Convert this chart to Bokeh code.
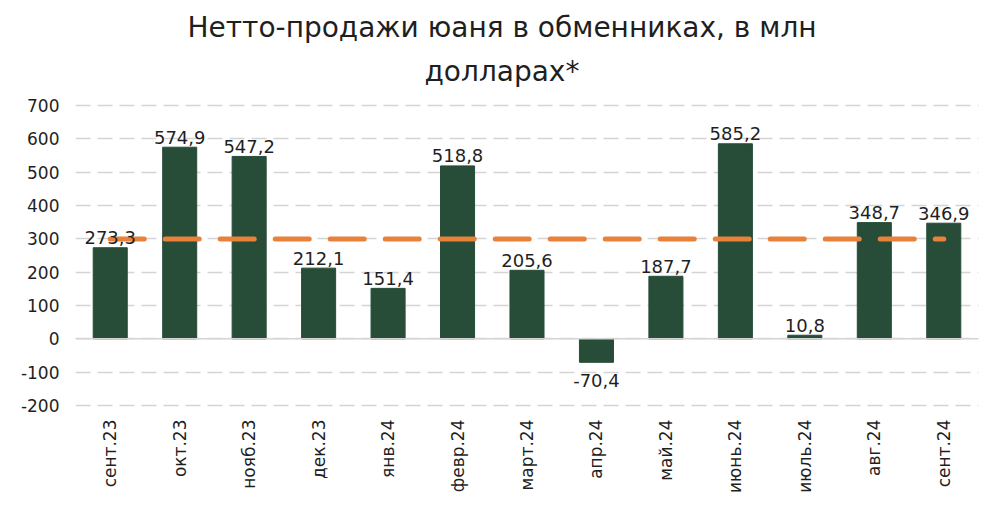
import math
from bokeh.plotting import figure
from bokeh.models import Range1d, FactorRange, Span, ColumnDataSource, Title
from bokeh.core.properties import value
from bokeh.embed import file_html
from bokeh.resources import INLINE

months = ["сент.23", "окт.23", "нояб.23", "дек.23", "янв.24", "февр.24", "март.24",
          "апр.24", "май.24", "июнь.24", "июль.24", "авг.24", "сент.24"]
net_sales = [273.3, 574.9, 547.2, 212.1, 151.4, 518.8, 205.6,
             -70.4, 187.7, 585.2, 10.8, 348.7, 346.9]
average_value = 299.4
title_lines = ["Нетто-продажи юаня в обменниках, в млн", "долларах*"]
y_ticks = [-200, -100, 0, 100, 200, 300, 400, 500, 600, 700]

FONT = "DejaVu Sans"
BAR = "#274d38"
ORANGE = "#e8823b"
GRID = "#d4d4d4"
TXT = "#1f1f1f"

p = figure(width=1002, height=510, x_range=FactorRange(*months),
           y_range=Range1d(-206, 706), output_backend="svg", toolbar_location=None,
           min_border_left=75, min_border_right=24, min_border_top=103,
           min_border_bottom=103, title=None)
p.outline_line_color = None
p.background_fill_color = "white"
p.border_fill_color = "white"

# line 2 (closest to the plot), then line 1
t2 = Title(text=title_lines[1], align="left", offset=349, text_font=FONT,
           text_font_size="28px", text_font_style="normal", text_color=TXT,
           standoff=31)
t1 = Title(text=title_lines[0], align="left", offset=112, text_font=FONT,
           text_font_size="28px", text_font_style="normal", text_color=TXT,
           standoff=-12)
p.add_layout(t2, "above")
p.add_layout(t1, "above")

p.xgrid.grid_line_color = None
p.ygrid.grid_line_color = GRID
p.ygrid.grid_line_dash = "15 7"
p.ygrid.grid_line_width = 1.5
p.yaxis.ticker = y_ticks
p.yaxis.major_label_overrides = {t: str(t) for t in y_ticks}

for ax in (p.xaxis[0], p.yaxis[0]):
    ax.axis_line_color = None
    ax.major_tick_line_color = None
    ax.minor_tick_line_color = None
    ax.major_tick_out = 0
    ax.major_tick_in = 0
    ax.major_label_text_font = FONT
    ax.major_label_text_color = TXT

p.yaxis.major_label_text_font_size = "17px"
p.yaxis.major_label_standoff = 16
p.xaxis.major_label_text_font_size = "17px"
p.xaxis.major_label_orientation = math.pi / 2
p.xaxis.major_label_standoff = 12

zero = Span(location=0, dimension="width", line_color=GRID, line_width=1.5)
p.add_layout(zero)

labels = [f"{v:.1f}".replace(".", ",") for v in net_sales]
pos = ColumnDataSource(dict(x=[m for m, v in zip(months, net_sales) if v >= 0],
                            y=[v for v in net_sales if v >= 0],
                            t=[l for l, v in zip(labels, net_sales) if v >= 0]))
neg = ColumnDataSource(dict(x=[m for m, v in zip(months, net_sales) if v < 0],
                            y=[v for v in net_sales if v < 0],
                            t=[l for l, v in zip(labels, net_sales) if v < 0]))

p.vbar(x=months, top=net_sales, width=0.49, color=BAR)

p.line(x=[months[0], months[-1]], y=[average_value, average_value],
       line_color=ORANGE, line_width=5, line_dash="34 21", line_cap="round")

p.text(x="x", y="y", text="t", source=pos, text_align="center",
       text_baseline="alphabetic", y_offset=-10, text_font=value(FONT),
       text_font_size="18px", text_color=TXT)
p.text(x="x", y="y", text="t", source=neg, text_align="center",
       text_baseline="top", y_offset=12, text_font=value(FONT),
       text_font_size="18px", text_color=TXT)

open("out.html", "w").write(file_html(p, INLINE))
